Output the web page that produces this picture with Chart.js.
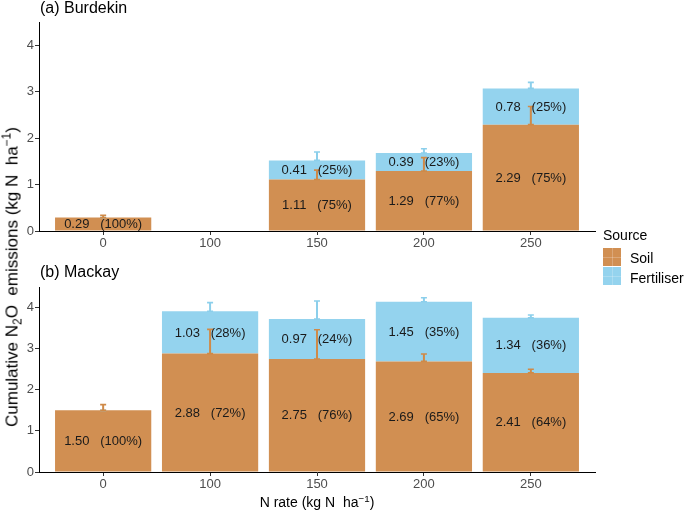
<!DOCTYPE html>
<html>
<head>
<meta charset="utf-8">
<script src="https://cdn.jsdelivr.net/npm/chart.js@4.4.1/dist/chart.umd.min.js"></script>
<style>
  html, body { margin: 0; padding: 0; background: #fff; }
  body { width: 685px; height: 513px; position: relative; overflow: hidden; font-family: 'Liberation Sans', Arial, sans-serif; }
  .box { position: absolute; left: 0; width: 685px; }
  .txt { position: absolute; white-space: nowrap; color: #000; line-height: 1; }
  sub, sup { font-size: 70%; line-height: 0; position: relative; vertical-align: baseline; }
  sub { top: 0.3em; }
  sup { top: -0.55em; }
  .key { position: absolute; width: 18px; height: 18px; }
  .key::before { content: ''; position: absolute; left: 8.5px; top: 0; width: 1px; height: 18px; background: rgba(255,255,255,0.22); }
  .key::after { content: ''; position: absolute; left: 0; top: 8.5px; width: 18px; height: 1px; background: rgba(255,255,255,0.22); }
</style>
</head>
<body>
<div class="box" style="top:0;height:257px;"><canvas id="c1"></canvas></div>
<div class="box" style="top:250px;height:263px;"><canvas id="c2"></canvas></div>

<div class="txt" style="left:40px;top:0px;font-size:16px;">(a) Burdekin</div>
<div class="txt" style="left:40px;top:264px;font-size:16px;">(b) Mackay</div>
<div class="txt" id="ytitle" style="left:12px;top:277px;font-size:17px;transform:translate(-50%,-50%) rotate(-90deg);">Cumulative N<sub>2</sub>O&nbsp; emissions (kg N&nbsp; ha<sup>−1</sup>)</div>
<div class="txt" style="left:317px;top:502px;font-size:14px;transform:translate(-50%,-50%);">N rate (kg N&nbsp; ha<sup>−1</sup>)</div>

<div class="txt" style="left:603px;top:228px;font-size:14px;">Source</div>
<div class="key" style="left:603px;top:248px;background:#D18F52;"></div>
<div class="key" style="left:603px;top:267px;background:#94D3EE;"></div>
<div class="txt" style="left:630px;top:251px;font-size:14px;">Soil</div>
<div class="txt" style="left:630px;top:271px;font-size:14px;">Fertiliser</div>

<script>
// ---- data ----
const nRates = ['0', '100', '150', '200', '250'];
const yTicks = [0, 1, 2, 3, 4];

const burdekinSoil    = [0.29, null, 1.11, 1.29, 2.29];
const burdekinFert    = [null, null, 0.41, 0.39, 0.78];
const burdekinSoilPct = ['100%', null, '75%', '77%', '75%'];
const burdekinFertPct = [null, null, '25%', '23%', '25%'];
const burdekinSoilSE  = [0.05, null, 0.20, 0.29, 0.39];
const burdekinFertSE  = [0, null, 0.18, 0.09, 0.13];

const mackaySoil    = [1.50, 2.88, 2.75, 2.69, 2.41];
const mackayFert    = [null, 1.03, 0.97, 1.45, 1.34];
const mackaySoilPct = ['100%', '72%', '76%', '65%', '64%'];
const mackayFertPct = [null, '28%', '24%', '35%', '36%'];
const mackaySoilSE  = [0.14, 0.59, 0.71, 0.18, 0.09];
const mackayFertSE  = [0, 0.21, 0.44, 0.10, 0.07];

// ---- styling ----
const SOIL_COLOR = '#D18F52';
const FERT_COLOR = '#94D3EE';
const SOIL_ERR = '#CF8A48';
const FERT_ERR = '#8CCFEB';
const FONT = "'Liberation Sans', Arial, sans-serif";

const overlay = {
  id: 'overlay',
  afterDatasetsDraw(chart, args, opts) {
    const d = opts.src;
    if (!d) return;
    const ctx = chart.ctx;
    const xs = chart.scales.x, ys = chart.scales.y;
    ctx.save();
    const drawErr = (xp, lo, hi, color) => {
      const y0 = ys.getPixelForValue(lo), y1 = ys.getPixelForValue(hi);
      ctx.strokeStyle = color;
      ctx.lineWidth = 2;
      ctx.beginPath(); ctx.moveTo(xp, y0); ctx.lineTo(xp, y1); ctx.stroke();
      ctx.lineWidth = 1.6;
      ctx.beginPath();
      ctx.moveTo(xp - 3, y1); ctx.lineTo(xp + 3, y1);
      ctx.moveTo(xp - 3, y0); ctx.lineTo(xp + 3, y0);
      ctx.stroke();
    };
    d.soil.forEach((s, i) => {
      if (s == null) return;
      const xp = xs.getPixelForValue(i);
      const top = s + (d.fert[i] || 0);
      if (d.fertSE[i] != null) drawErr(xp, top, top + d.fertSE[i], FERT_ERR);
      if (d.soilSE[i] != null) drawErr(xp, s, s + d.soilSE[i], SOIL_ERR);
    });
    ctx.font = '13px ' + FONT;
    ctx.fillStyle = '#1a1a1a';
    ctx.textAlign = 'center';
    ctx.textBaseline = 'middle';
    const series = [[d.soil, d.soilPct], [d.fert, d.fertPct]];
    series.forEach(([vals, pcts], di) => {
      const meta = chart.getDatasetMeta(di);
      meta.data.forEach((bar, i) => {
        if (vals[i] == null || pcts[i] == null) return;
        const cy = (bar.y + bar.base) / 2;
        ctx.fillText(vals[i].toFixed(2) + '   (' + pcts[i] + ')', bar.x, cy + 0.5);
      });
    });
    ctx.restore();
  }
};

function makeChart(id, soil, fert, soilPct, fertPct, soilSE, fertSE, padTop, padBottom) {
  const toXY = arr => arr.map((v, i) => ({ x: i, y: v }));
  return new Chart(document.getElementById(id), {
    type: 'bar',
    data: {
      datasets: [
        { label: 'Soil', data: toXY(soil), backgroundColor: SOIL_COLOR, borderWidth: 0,
          categoryPercentage: 0.9, barPercentage: 1.0 },
        { label: 'Fertiliser', data: toXY(fert), backgroundColor: FERT_COLOR, borderWidth: 0,
          categoryPercentage: 0.9, barPercentage: 1.0 }
      ]
    },
    options: {
      responsive: true,
      maintainAspectRatio: false,
      animation: false,
      events: [],
      layout: { padding: { left: 0, right: 90, top: padTop, bottom: padBottom } },
      plugins: {
        legend: { display: false },
        tooltip: { enabled: false },
        overlay: { src: { soil, fert, soilPct, fertPct, soilSE, fertSE } }
      },
      scales: {
        x: {
          type: 'linear',
          stacked: true,
          offset: false,
          min: -0.6, max: 4.6,
          afterBuildTicks: s => { s.ticks = nRates.map((_, i) => ({ value: i })); },
          afterFit: s => { s.height = 26; },
          ticks: {
            autoSkip: false, maxRotation: 0, padding: 1,
            color: '#4D4D4D', font: { family: FONT, size: 13 },
            callback: v => nRates[v]
          },
          grid: { display: true, offset: false, drawOnChartArea: false, drawTicks: true, tickLength: 4, color: '#333', lineWidth: 1 },
          border: { display: true, color: '#000', width: 1 }
        },
        y: {
          stacked: true,
          min: 0, max: 4.5,
          afterBuildTicks: s => { s.ticks = yTicks.map(v => ({ value: v })); },
          afterFit: s => { s.width = 39; },
          ticks: {
            padding: 1, color: '#4D4D4D', font: { family: FONT, size: 13 },
            callback: v => String(v)
          },
          grid: { display: true, drawOnChartArea: false, drawTicks: true, tickLength: 4, color: '#333', lineWidth: 1 },
          border: { display: true, color: '#000', width: 1 }
        }
      }
    },
    plugins: [overlay]
  });
}

makeChart('c1', burdekinSoil, burdekinFert, burdekinSoilPct, burdekinFertPct, burdekinSoilSE, burdekinFertSE, 22, 0);
makeChart('c2', mackaySoil, mackayFert, mackaySoilPct, mackayFertPct, mackaySoilSE, mackayFertSE, 37, 15);
</script>
</body>
</html>
